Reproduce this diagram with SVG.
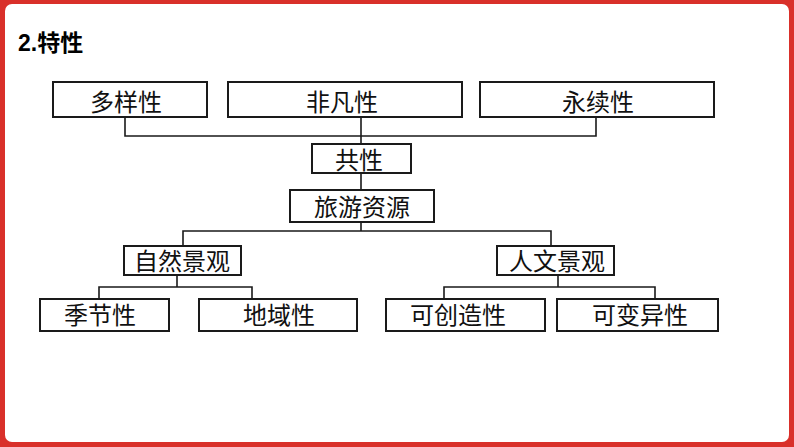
<svg xmlns="http://www.w3.org/2000/svg" width="794" height="447" viewBox="0 0 794 447">
<style>
.box{fill:#fff;stroke:#1a1a1a;stroke-width:2}
.t{font-family:"Noto Sans CJK SC","Liberation Sans",sans-serif;font-size:24px;fill:#111;text-anchor:middle}
.ln{fill:none;stroke:#1a1a1a;stroke-width:1.6}
</style>
<rect x="0" y="0" width="794" height="447" fill="#d9302a"/>
<rect x="5" y="4" width="784" height="438" rx="7" fill="#fff"/>
<text x="18" y="51" font-family="'Liberation Sans','Noto Sans CJK SC',sans-serif" font-size="23" font-weight="bold" fill="#000">2.特性</text>
<g id="connectors">
<path class="ln" d="M125,117V136H596V117M361,117V144M361,173V190M361,222V231M183,246V231H551V246M177,275V287M99,299V287H252V299M558,275V287M444,299V287H655V299"/>
</g>
<g id="n-duoyang"><rect class="box" x="53" y="82" width="154" height="35"/><text class="t" x="126" y="111">多样性</text></g>
<g id="n-feifan"><rect class="box" x="228" y="82" width="234" height="35"/><text class="t" x="342" y="111">非凡性</text></g>
<g id="n-yongxu"><rect class="box" x="480" y="82" width="234" height="35"/><text class="t" x="598" y="111">永续性</text></g>
<g id="n-gongxing"><rect class="box" x="312" y="144" width="99" height="29"/><text class="t" x="359" y="169">共性</text></g>
<g id="n-lvyou"><rect class="box" x="290" y="190" width="144" height="32"/><text class="t" x="362" y="216">旅游资源</text></g>
<g id="n-ziran"><rect class="box" x="124" y="246" width="117" height="29"/><text class="t" x="182" y="270">自然景观</text></g>
<g id="n-renwen"><rect class="box" x="497" y="246" width="117" height="29"/><text class="t" x="557" y="270">人文景观</text></g>
<g id="n-jijie"><rect class="box" x="40" y="299" width="129" height="32"/><text class="t" x="100" y="324">季节性</text></g>
<g id="n-diyu"><rect class="box" x="199" y="299" width="158" height="32"/><text class="t" x="279" y="324">地域性</text></g>
<g id="n-chuangzao"><rect class="box" x="386" y="299" width="159" height="32"/><text class="t" x="458" y="324">可创造性</text></g>
<g id="n-bianyi"><rect class="box" x="557" y="299" width="161" height="32"/><text class="t" x="640" y="324">可变异性</text></g>
</svg>
